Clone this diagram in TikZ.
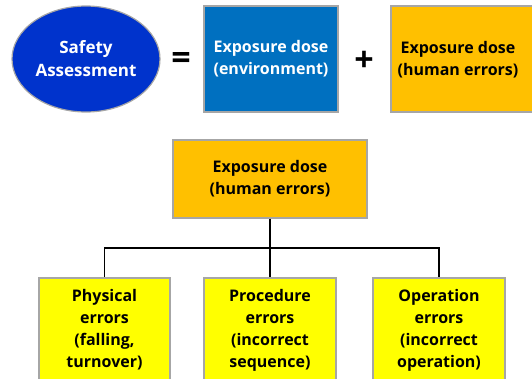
\documentclass[tikz,border=0pt]{standalone}
\usepackage{fontspec}
\setmainfont{Open Sans}
\usetikzlibrary{shapes.geometric}
\definecolor{ellblue}{HTML}{0033CC}
\definecolor{boxblue}{HTML}{0070C0}
\definecolor{boxorange}{HTML}{FFC000}
\definecolor{boxyellow}{HTML}{FFFF00}
\definecolor{edgegray}{HTML}{A6A6A6}
\tikzset{
  lbl/.style={font=\fontsize{16}{22}\selectfont\bfseries, align=center, inner sep=0pt},
  box/.style={lbl, draw=edgegray, line width=1.2pt, rectangle},
  conn/.style={line width=1.7pt, black},
  sym/.style={font=\fontsize{34}{34}\selectfont\bfseries, inner sep=0pt},
}
\begin{document}
\begin{tikzpicture}[x=1pt,y=-1pt]
\useasboundingbox (0,0) rectangle (532,378);
\node[lbl, font=\fontsize{17}{23}\selectfont\bfseries, ellipse, draw=edgegray, line width=1.2pt, fill=ellblue, text=white,
      minimum width=148pt, minimum height=106pt] (sa) at (86,59) {Safety\\Assessment};
\node[sym] (eq) at (181,61) {=};
\node[box, fill=boxblue, text=white, minimum width=134pt, minimum height=106pt] (env) at (271,59) {Exposure dose\\(environment)};
\node[sym] (plus) at (364,61) {+};
\node[box, fill=boxorange, minimum width=150pt, minimum height=106pt] (hum) at (466,59) {};
\node[lbl] (humtxt) at (458,60) {Exposure dose\\(human errors)};
\node[box, fill=boxorange, minimum width=194pt, minimum height=78pt] (hum2) at (270,179) {Exposure dose\\(human errors)};
\node[box, fill=boxyellow, minimum width=131pt, minimum height=104pt] (phy) at (104.5,330) {Physical\\errors\\(falling,\\turnover)};
\node[box, fill=boxyellow, minimum width=132pt, minimum height=104pt] (pro) at (270,330) {Procedure\\errors\\(incorrect\\sequence)};
\node[box, fill=boxyellow, minimum width=132pt, minimum height=104pt] (ope) at (439,330) {Operation\\errors\\(incorrect\\operation)};
\coordinate (j) at (270,248);
\draw[conn] (hum2.south) -- (j);
\draw[conn] (j) -| (phy.north);
\draw[conn] (j) -| (ope.north);
\draw[conn] (j) -- (pro.north);
\end{tikzpicture}
\end{document}
